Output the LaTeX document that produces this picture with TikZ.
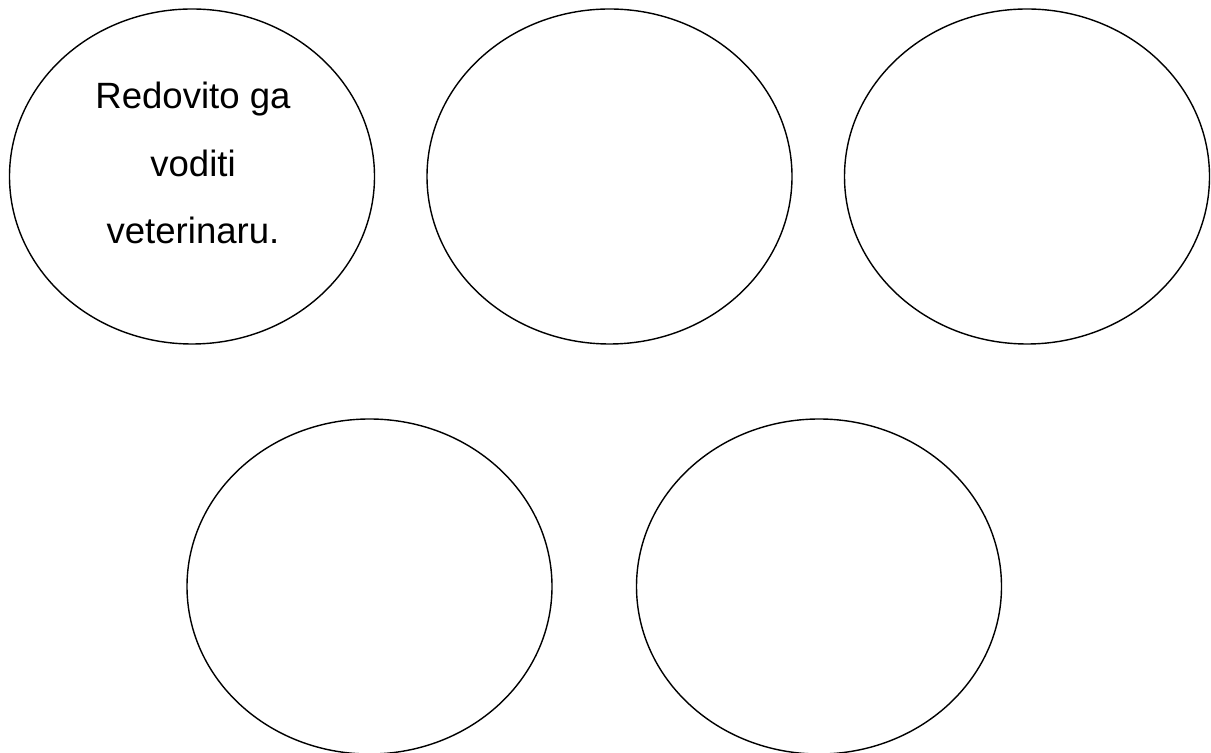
\documentclass[tikz,border=0pt]{standalone}
\usepackage{fontspec}
\setmainfont{Liberation Sans}
\usetikzlibrary{shapes.geometric}

\begin{document}
\begin{tikzpicture}[x=0.025cm,y=-0.025cm,
  oval/.style={draw,ellipse,line width=1pt,inner sep=0pt,minimum width=365*0.025cm,minimum height=335*0.025cm},
  bubbletext/.style={align=center,inner sep=0pt,font=\fontsize{26pt}{47.7pt}\selectfont}]
\useasboundingbox (0,0) rectangle (1211,753);

% Upper row of ovals.
\foreach \x/\nm in {192/ovA,609.5/ovB,1027/ovC}{
  \node[oval] (\nm) at (\x,176.5) {};
}
% Lower row of ovals.
\foreach \x/\nm in {369.5/ovD,819/ovE}{
  \node[oval] (\nm) at (\x,586.5) {};
}

\node[bubbletext] (txtA) at (193,163) {Redovito ga\\voditi\\veterinaru.};
\end{tikzpicture}
\end{document}
